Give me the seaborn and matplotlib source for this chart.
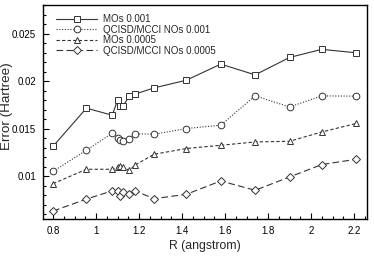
import numpy as np
import pandas as pd
import seaborn as sns
import matplotlib
matplotlib.use("Agg")
import matplotlib.pyplot as plt
from matplotlib.ticker import MultipleLocator, FuncFormatter


# bond length (angstrom)
r_values = [0.8, 0.955, 1.075, 1.10, 1.11, 1.125, 1.155, 1.18,
            1.27, 1.42, 1.58, 1.74, 1.9, 2.05, 2.21]

mos_001 = [0.01316, 0.01716, 0.01642, 0.0180, 0.0174, 0.0174, 0.01842, 0.01863,
           0.01929, 0.0201, 0.02179, 0.02066, 0.02249, 0.02334, 0.02298]
nos_001 = [0.01053, 0.01274, 0.01453, 0.01407, 0.01379, 0.01366, 0.01395, 0.01447,
           0.01442, 0.01502, 0.01537, 0.01845, 0.01729, 0.01845, 0.01842]
mos_0005 = [0.00923, 0.01074, 0.01074, 0.01098, 0.01105, 0.01095, 0.01063, 0.01116,
            0.01232, 0.01292, 0.01326, 0.01361, 0.01368, 0.01466, 0.01555]
nos_0005 = [0.00635, 0.00761, 0.00847, 0.00847, 0.00789, 0.00834, 0.00818, 0.00847,
            0.00765, 0.00811, 0.00951, 0.00853, 0.00993, 0.01123, 0.01179]

labels = ["MOs 0.001", "QCISD/MCCI NOs 0.001", "MOs 0.0005", "QCISD/MCCI NOs 0.0005"]
series = [mos_001, nos_001, mos_0005, nos_0005]
markers = ["s", "o", "^", "D"]
dashes = ["-", (0, (1, 1.5)), (0, (3, 2)), (0, (6, 3))]
msizes = [4.8, 4.8, 5.0, 4.0]

sns.set_style("ticks")
plt.rcParams["font.family"] = ["Liberation Sans", "DejaVu Sans"]

fig = plt.figure(figsize=(3.74, 2.64), dpi=100)
ax = fig.add_axes([0.115, 0.17, 0.866, 0.811])

for label, values, marker, ls, ms in zip(labels, series, markers, dashes, msizes):
    df = pd.DataFrame({"R": r_values, "Error": values})
    sns.lineplot(data=df, x="R", y="Error", ax=ax, color="#333333", linewidth=0.8,
                 linestyle=ls, marker=marker, markersize=ms,
                 markerfacecolor="white", markeredgecolor="#333333",
                 markeredgewidth=0.7, label=label)

ax.set_xlim(0.753, 2.26)
ax.set_ylim(0.0055, 0.028)
ax.xaxis.set_major_locator(MultipleLocator(0.2))
ax.xaxis.set_minor_locator(MultipleLocator(0.05))
ax.yaxis.set_major_locator(MultipleLocator(0.005))
ax.yaxis.set_minor_locator(MultipleLocator(0.001))
fmt = FuncFormatter(lambda v, pos: "%g" % round(v, 4))
ax.xaxis.set_major_formatter(fmt)
ax.yaxis.set_major_formatter(fmt)
ax.tick_params(which="both", direction="in", top=False, right=False,
               colors="black", labelsize=7, width=0.8)
ax.tick_params(which="major", length=4, pad=5)
ax.tick_params(which="minor", length=2)
for spine in ax.spines.values():
    spine.set_linewidth(1.0)
    spine.set_color("black")

ax.set_xlabel("R (angstrom)", fontsize=8.8, labelpad=3)
ax.set_ylabel("Error (Hartree)", fontsize=9.6)
ax.yaxis.set_label_coords(-0.094, 0.53)

ax.legend(loc="upper left", frameon=False, fontsize=7.0, handlelength=4.3,
          handletextpad=0.6, labelspacing=0.05, borderaxespad=0.3,
          bbox_to_anchor=(0.018, 0.988))

fig.savefig("out.png", dpi=100)
